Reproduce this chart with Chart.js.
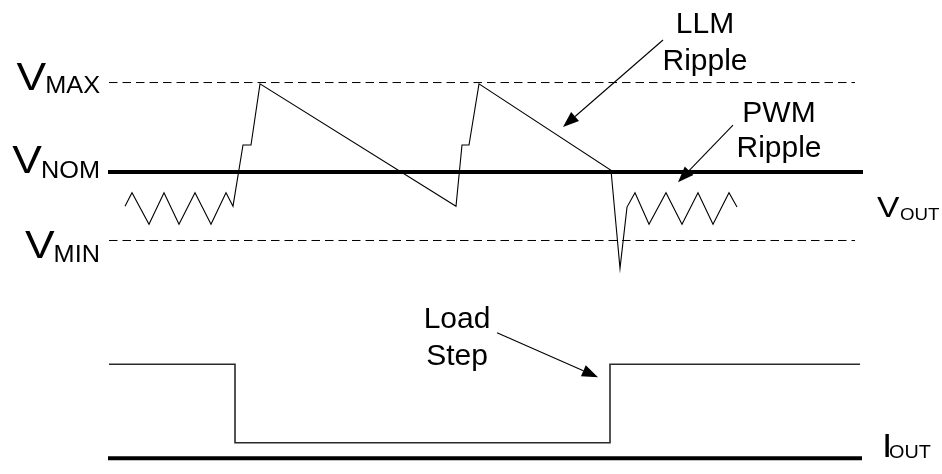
<!DOCTYPE html>
<html>
<head>
<meta charset="utf-8">
<script src="https://cdn.jsdelivr.net/npm/chart.js@4/dist/chart.umd.min.js"></script>
<style>
  html, body { margin: 0; padding: 0; background: #fff; overflow: hidden; }
  canvas { display: block; }
</style>
</head>
<body>
<canvas id="c" width="942" height="474"></canvas>
<script>
// ---- Data (time in arbitrary units, VOUT relative to VNOM in units of VMAX-VNOM, IOUT in units of load) ----
const vTime = [125, 132, 149, 164, 179, 195, 211, 226, 233, 243, 251, 260, 456, 462, 469, 479, 611, 620, 627, 635, 649, 666, 682, 698, 713, 729, 737];
const vOut  = [-0.38, -0.23, -0.58, -0.23, -0.58, -0.23, -0.58, -0.23, -0.38, 0.30, 0.30, 0.98, -0.38, 0.30, 0.30, 0.98, 0.02, -1.07, -0.39, -0.23, -0.58, -0.23, -0.58, -0.23, -0.58, -0.23, -0.39];

const iTime = [109, 235, 235, 610, 610, 860];
const iOut  = [1, 1, 0.166, 0.166, 1, 1];

const levelNames  = ['VMAX', 'VNOM', 'VMIN'];
const levelValues = [0.994, 0, -0.761];
const levelStart  = [109, 108, 109];
const levelEnd    = [855, 863, 855];

const ioutBaseTime  = [108, 862];
const ioutBaseValue = [0, 0];

// ---- helpers ----
const pts = (xs, ys) => xs.map((x, i) => ({ x: x, y: ys[i] }));

const datasets = [
  { label: 'VOUT', data: pts(vTime, vOut), yAxisID: 'yV', borderColor: '#000', borderWidth: 1.1 },
  { label: 'IOUT', data: pts(iTime, iOut), yAxisID: 'yI', borderColor: '#2a2a2a', borderWidth: 1.6 },
  { label: 'IOUT base', data: pts(ioutBaseTime, ioutBaseValue), yAxisID: 'yI', borderColor: '#000', borderWidth: 4 }
];
levelNames.forEach((n, i) => {
  const isNom = n === 'VNOM';
  datasets.push({
    label: n,
    data: [{ x: levelStart[i], y: levelValues[i] }, { x: levelEnd[i], y: levelValues[i] }],
    yAxisID: 'yV',
    borderColor: '#000',
    borderWidth: isNom ? 4 : 1,
    borderDash: isNom ? [] : [8.5, 5]
  });
});

// Text labels: main + subscript, anchored in data coordinates
const FONT = '"Liberation Sans", Arial, sans-serif';
const levelLabels = [
  { main: 'V', sub: 'MAX', axis: 'yV', xRight: 100, yMain: 0.911, ySub: 0.874 },
  { main: 'V', sub: 'NOM', axis: 'yV', xRight: 100, yMain: -0.011, ySub: -0.067 },
  { main: 'V', sub: 'MIN', axis: 'yV', xRight: 100, yMain: -0.956, ySub: -1.0 }
];
const sideLabels = [
  { main: 'V', sub: 'OUT', axis: 'yV', xLeft: 877, subLeft: 900, yMain: -0.497, ySub: -0.533, mainSize: 30, subSize: 17 },
  { main: 'I', sub: 'OUT', axis: 'yI', xLeft: 882, subLeft: 889, yMain: 0.017, ySub: 0.003, mainSize: 33, subSize: 18 }
];
const notes = [
  { lines: ['LLM', 'Ripple'], axis: 'yV', x: 705, y: [1.544, 1.133] },
  { lines: ['PWM', 'Ripple'], axis: 'yV', x: 779, y: [0.559, 0.17] },
  { lines: ['Load', 'Step'], axis: 'yI', x: 457, y: [1.386, 0.993] }
];
const arrows = [
  { axis: 'yV', from: [663, 1.467], to: [563, 0.5] },
  { axis: 'yV', from: [733, 0.522], to: [678, -0.114] },
  { axis: 'yI', from: [497, 1.336], to: [598, 0.862] }
];

const annot = {
  id: 'annot',
  afterDatasetsDraw(chart) {
    const ctx = chart.ctx;
    const sx = chart.scales.x;
    ctx.save();
    ctx.fillStyle = '#000';
    ctx.strokeStyle = '#000';
    ctx.textBaseline = 'alphabetic';

    // level labels (slightly wide glyphs)
    levelLabels.forEach(l => {
      const sy = chart.scales[l.axis];
      const xr = sx.getPixelForValue(l.xRight);
      ctx.save();
      ctx.font = '23px ' + FONT;
      const subW = ctx.measureText(l.sub).width * 1.1;
      ctx.translate(xr - subW, sy.getPixelForValue(l.ySub));
      ctx.scale(1.1, 1);
      ctx.textAlign = 'left';
      ctx.fillText(l.sub, 0, 0);
      ctx.restore();
      ctx.save();
      ctx.font = '39px ' + FONT;
      ctx.translate(xr - subW + 1, sy.getPixelForValue(l.yMain));
      ctx.scale(1.14, 1);
      ctx.textAlign = 'right';
      ctx.fillText(l.main, 0, 0);
      ctx.restore();
    });

    sideLabels.forEach(l => {
      const sy = chart.scales[l.axis];
      ctx.textAlign = 'left';
      ctx.save();
      ctx.font = l.mainSize + 'px ' + FONT;
      ctx.translate(sx.getPixelForValue(l.xLeft), sy.getPixelForValue(l.yMain));
      ctx.scale(1.12, 1);
      ctx.fillText(l.main, 0, 0);
      ctx.restore();
      ctx.save();
      ctx.font = l.subSize + 'px ' + FONT;
      ctx.translate(sx.getPixelForValue(l.subLeft), sy.getPixelForValue(l.ySub));
      ctx.scale(1.1, 1);
      ctx.fillText(l.sub, 0, 0);
      ctx.restore();
    });

    ctx.font = '30px ' + FONT;
    ctx.textAlign = 'center';
    notes.forEach(n => {
      const sy = chart.scales[n.axis];
      n.lines.forEach((t, i) => ctx.fillText(t, sx.getPixelForValue(n.x), sy.getPixelForValue(n.y[i])));
    });

    arrows.forEach(a => {
      const sy = chart.scales[a.axis];
      const x1 = sx.getPixelForValue(a.from[0]), y1 = sy.getPixelForValue(a.from[1]);
      const x2 = sx.getPixelForValue(a.to[0]), y2 = sy.getPixelForValue(a.to[1]);
      const ang = Math.atan2(y2 - y1, x2 - x1);
      const L = 16, W = 6;
      const bx = x2 - L * Math.cos(ang), by = y2 - L * Math.sin(ang);
      ctx.lineWidth = 1.1;
      ctx.beginPath();
      ctx.moveTo(x1, y1);
      ctx.lineTo(bx, by);
      ctx.stroke();
      ctx.beginPath();
      ctx.moveTo(x2, y2);
      ctx.lineTo(bx + W * Math.sin(ang), by - W * Math.cos(ang));
      ctx.lineTo(bx - W * Math.sin(ang), by + W * Math.cos(ang));
      ctx.closePath();
      ctx.fill();
    });
    ctx.restore();
  }
};

new Chart(document.getElementById('c'), {
  type: 'line',
  data: { datasets: datasets },
  options: {
    responsive: false,
    animation: false,
    devicePixelRatio: 1,
    layout: { padding: 0 },
    elements: { point: { radius: 0, hoverRadius: 0 }, line: { tension: 0, fill: false, borderJoinStyle: 'miter', borderCapStyle: 'butt' } },
    datasets: { line: { clip: false } },
    plugins: { legend: { display: false }, tooltip: { enabled: false } },
    events: [],
    scales: {
      x: { type: 'linear', min: 0, max: 942, display: false },
      yV: { type: 'linear', min: -3.3556, max: 1.9111, display: false },
      yI: { type: 'linear', min: -0.167, max: 4.8755, display: false }
    }
  },
  plugins: [annot]
});
</script>
</body>
</html>
